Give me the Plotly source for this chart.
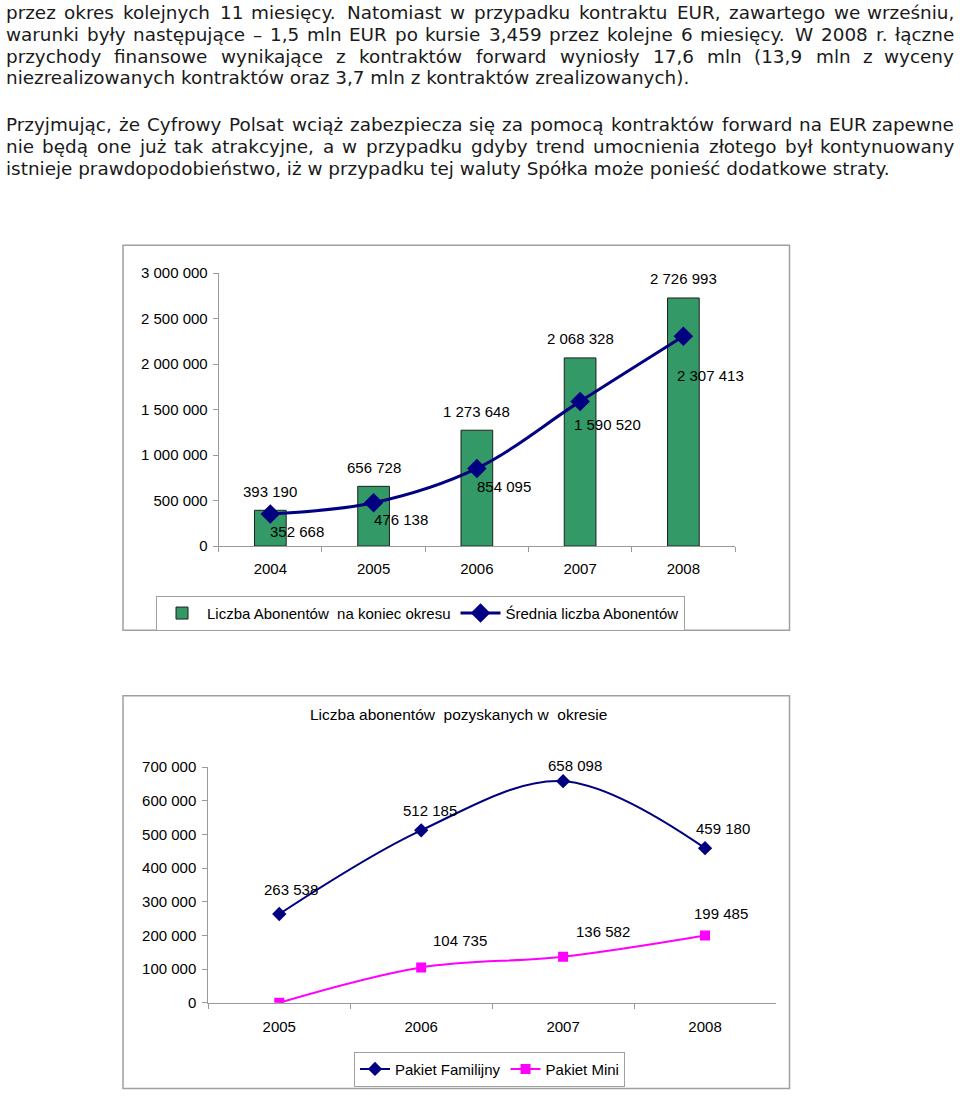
import unicodedata
import plotly.graph_objects as go

W, H = 960, 1101

# ---------------- data ----------------
years1 = ["2004", "2005", "2006", "2007", "2008"]
subs_end = [393190, 656728, 1273648, 2068328, 2726993]
subs_avg = [352668, 476138, 854095, 1590520, 2307413]

years2 = ["2005", "2006", "2007", "2008"]
familijny = [263538, 512185, 658098, 459180]
mini = [0, 104735, 136582, 199485]

name_end = "Liczba Abonentów  na koniec okresu"
name_avg = "Średnia liczba Abonentów"
name_fam = "Pakiet Familijny"
name_mini = "Pakiet Mini"
title2 = "Liczba abonentów  pozyskanych w  okresie"

y1_ticks = [0, 500000, 1000000, 1500000, 2000000, 2500000, 3000000]
y2_ticks = [0, 100000, 200000, 300000, 400000, 500000, 600000, 700000]

para_lines = [
    "przez okres kolejnych 11 miesięcy. Natomiast w przypadku kontraktu EUR, zawartego we wrześniu,",
    "warunki były następujące – 1,5 mln EUR po kursie 3,459 przez kolejne 6 miesięcy. W 2008 r.  łączne",
    "przychody finansowe wynikające z kontraktów forward wyniosły 17,6 mln (13,9 mln z wyceny",
    "niezrealizowanych kontraktów oraz 3,7 mln z kontraktów zrealizowanych).",
    "Przyjmując, że Cyfrowy Polsat wciąż zabezpiecza się za pomocą kontraktów forward na EUR zapewne",
    "nie będą one już tak atrakcyjne, a w przypadku gdyby trend umocnienia złotego był kontynuowany",
    "istnieje prawdopodobieństwo, iż w przypadku tej waluty Spółka może ponieść dodatkowe straty.",
]
para_justified = [True, True, True, False, True, True, False]

# ---------------- styles / offsets ----------------
para_y = [4, 26, 48, 70, 117, 140, 162]
avg_dx = [27, 27, 27, 27, 27]
avg_dy = [-18, -17, -18, -23, -39]
fam_dx = [12, 9, 12, 18]
fam_dy = [25, 20, 16, 20]
mini_dx = [0, 39, 40, 16]
mini_dy = [0, 27, 25, 22]

FONT = "Liberation Sans, Arial, sans-serif"
PFONT = "DejaVu Sans"
GREEN = "#339966"
NAVY = "#000080"
MAGENTA = "#FF00FF"
AXC = "#9a9a9a"


def px(x):
    return x / W


def py(y):
    return 1 - y / H


def fmt(v):
    return f"{v:,}".replace(",", " ")


def keep_spaces(s):
    return s.replace("  ", " \u00a0")


# DejaVu Sans advance widths (units / 2048)
DV = {" ": 651, ",": 651, ".": 651, "(": 799, ")": 799, "–": 1024, "-": 739,
      "a": 1255, "b": 1300, "c": 1126, "d": 1300, "e": 1260, "f": 721, "g": 1300,
      "h": 1298, "i": 569, "j": 569, "k": 1186, "l": 569, "m": 1995, "n": 1298,
      "o": 1253, "p": 1300, "q": 1300, "r": 842, "s": 1067, "t": 803, "u": 1298,
      "v": 1212, "w": 1675, "x": 1212, "y": 1212, "z": 1075, "ł": 600,
      "A": 1401, "B": 1405, "C": 1430, "D": 1577, "E": 1294, "F": 1178, "G": 1587,
      "H": 1540, "I": 604, "J": 604, "K": 1343, "L": 1141, "M": 1767, "N": 1532,
      "O": 1612, "P": 1235, "R": 1423, "S": 1300, "T": 1251, "U": 1499, "W": 2025}


def units(s):
    tot = 0
    for ch in s:
        if ch.isdigit():
            tot += 1303
            continue
        if ch in DV:
            tot += DV[ch]
            continue
        base = unicodedata.normalize("NFD", ch)[0]
        tot += DV.get(base, 1200)
    return tot


# fit paragraph font size to the natural-width lines
targets = {3: 688, 6: 885}
sizes = [t * 2048 / units(para_lines[i]) for i, t in targets.items()]
PSIZE = sum(sizes) / len(sizes)

annotations = []
LEFT, RIGHT = 5, 955
for line, yy, just in zip(para_lines, para_y, para_justified):
    if not just:
        annotations.append(dict(x=px(LEFT), y=py(yy), xref="paper", yref="paper",
                                text=line, showarrow=False, xanchor="left", yanchor="middle",
                                borderpad=0, font=dict(family=PFONT, size=PSIZE, color="#1a1a1a")))
        continue
    words = line.split()
    ws = [units(w_) * PSIZE / 2048 for w_ in words]
    gap = (RIGHT - LEFT - sum(ws)) / (len(words) - 1)
    xpos = LEFT
    for k, (w_, wd) in enumerate(zip(words, ws)):
        last = k == len(words) - 1
        annotations.append(dict(x=px(RIGHT if last else xpos), y=py(yy), xref="paper", yref="paper",
                                text=w_, showarrow=False, xanchor="right" if last else "left",
                                yanchor="middle", borderpad=0,
                                font=dict(family=PFONT, size=PSIZE, color="#1a1a1a")))
        xpos += wd + gap

fig = go.Figure()

# ---------------- chart 1 ----------------
fig.add_trace(go.Bar(x=years1, y=subs_end, name=keep_spaces(name_end), width=0.307,
                     marker=dict(color=GREEN, line=dict(color="#1f1f1f", width=1)),
                     xaxis="x", yaxis="y", legend="legend"))
fig.add_trace(go.Scatter(x=years1, y=subs_avg, name=name_avg, mode="lines+markers",
                         line=dict(color=NAVY, width=3, shape="spline", smoothing=1.0),
                         marker=dict(symbol="diamond", size=15, color=NAVY),
                         xaxis="x", yaxis="y", legend="legend"))

LBL = dict(family=FONT, size=15, color="black")
for i, v in enumerate(subs_end):
    annotations.append(dict(x=i, y=v, xref="x", yref="y", text=fmt(v), showarrow=False,
                            yshift=19, font=LBL))
for i, (v, dx, dy) in enumerate(zip(subs_avg, avg_dx, avg_dy)):
    annotations.append(dict(x=i, y=v, xref="x", yref="y", text=fmt(v), showarrow=False,
                            xshift=dx, yshift=dy, font=LBL))

# ---------------- chart 2 ----------------
fig.add_trace(go.Scatter(x=years2, y=familijny, name=name_fam, mode="lines+markers",
                         line=dict(color=NAVY, width=2, shape="spline", smoothing=1.0),
                         marker=dict(symbol="diamond", size=11, color=NAVY),
                         xaxis="x2", yaxis="y2", legend="legend2"))
fig.add_trace(go.Scatter(x=years2, y=mini, name=name_mini, mode="lines+markers",
                         line=dict(color=MAGENTA, width=2, shape="spline", smoothing=1.0),
                         marker=dict(symbol="square", size=10, color=MAGENTA),
                         xaxis="x2", yaxis="y2", legend="legend2"))

for i, (v, dx, dy) in enumerate(zip(familijny, fam_dx, fam_dy)):
    annotations.append(dict(x=i, y=v, xref="x2", yref="y2", text=fmt(v), showarrow=False,
                            xshift=dx, yshift=dy, font=LBL))
for i, (v, dx, dy) in enumerate(zip(mini, mini_dx, mini_dy)):
    if v == 0:
        continue
    annotations.append(dict(x=i, y=v, xref="x2", yref="y2", text=fmt(v), showarrow=False,
                            xshift=dx, yshift=dy, font=LBL))

annotations.append(dict(x=px(458), y=py(717), xref="paper", yref="paper", text=keep_spaces(title2),
                        showarrow=False, xanchor="center", yanchor="middle",
                        font=dict(family=FONT, size=15.5, color="black")))

shapes = [
    dict(type="rect", xref="paper", yref="paper", x0=px(123), x1=px(789.5), y0=py(631), y1=py(240),
         line=dict(color="#a0a0a0", width=1.5), fillcolor="rgba(0,0,0,0)"),
    dict(type="rect", xref="paper", yref="paper", x0=px(123), x1=px(789.5), y0=py(1096.5), y1=py(697.5),
         line=dict(color="#a0a0a0", width=1.5), fillcolor="rgba(0,0,0,0)"),
]

axis_common = dict(showline=True, linecolor=AXC, linewidth=1, ticks="outside", tickcolor=AXC,
                   showgrid=False, zeroline=False,
                   tickfont=dict(family=FONT, size=15, color="black"))

fig.update_layout(
    width=W, height=H, margin=dict(l=0, r=0, t=0, b=0),
    paper_bgcolor="white", plot_bgcolor="white",
    separators=", ",
    font=dict(family=FONT, size=15, color="black"),
    xaxis=dict(domain=[px(218.7), px(735)], anchor="y", type="category", range=[-0.5, 4.5],
               tickson="boundaries", ticklen=5, ticklabelstandoff=9, **axis_common),
    yaxis=dict(domain=[py(545.5), py(268.3)], anchor="x", range=[0, 3000000],
               tickvals=y1_ticks, tickformat=",", ticklen=5, ticklabelstandoff=2, **axis_common),
    xaxis2=dict(domain=[px(208.3), px(776)], anchor="y2", type="category", range=[-0.5, 3.5],
                tickson="boundaries", ticklen=5, ticklabelstandoff=10, **axis_common),
    yaxis2=dict(domain=[py(1009.3), py(770)], anchor="x2", range=[0, 700000],
                tickvals=y2_ticks, tickformat=",", ticklen=5, ticklabelstandoff=3, **axis_common),
    legend=dict(orientation="h", x=px(156), y=py(596), xanchor="left", yanchor="top",
                bordercolor="#a0a0a0", borderwidth=1, bgcolor="white", itemwidth=40,
                font=dict(family=FONT, size=15, color="black")),
    legend2=dict(orientation="h", x=px(354), y=py(1059), xanchor="left", yanchor="top",
                 bordercolor="#a0a0a0", borderwidth=1, bgcolor="white",
                 font=dict(family=FONT, size=15, color="black")),
    annotations=annotations,
    shapes=shapes,
    showlegend=True,
)

fig.write_html("out.html", config={"displayModeBar": False},
               post_script="document.body.style.margin='0px';document.body.style.padding='0px';")
